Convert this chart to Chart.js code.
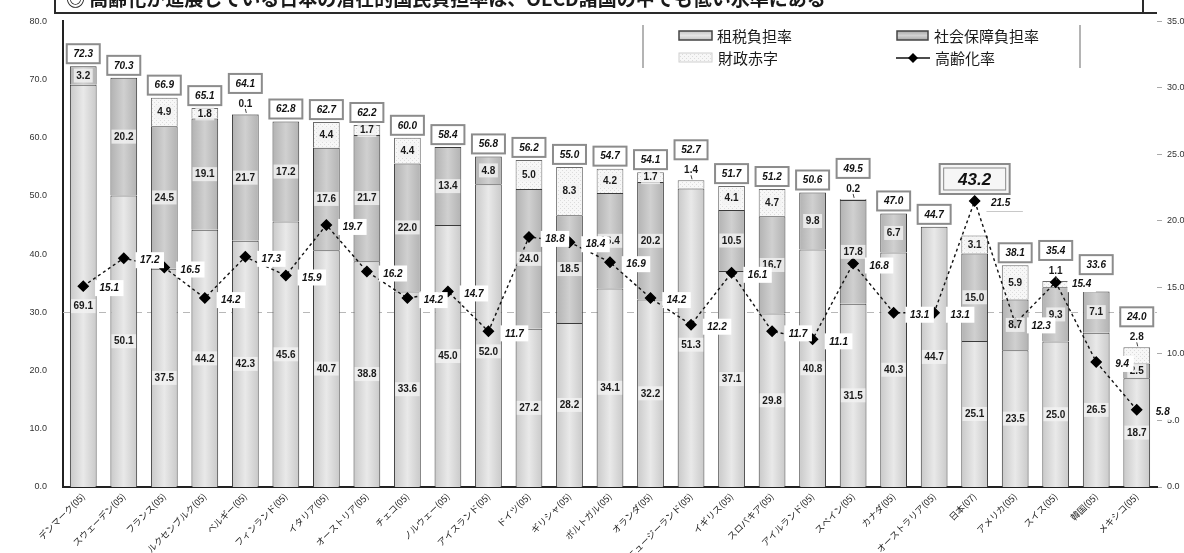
<!DOCTYPE html>
<html>
<head>
<meta charset="utf-8">
<script src="https://cdn.jsdelivr.net/npm/chart.js@4.4.0/dist/chart.umd.min.js"></script>
<style>
  html, body { margin: 0; padding: 0; background: #ffffff; }
  canvas { display: block; }
</style>
</head>
<body>
<canvas id="chart" width="1184" height="553"></canvas>
<script>
// 国名（データ年）
const countries = [
  'デンマーク(05)', 'スウェーデン(05)', 'フランス(05)', 'ルクセンブルク(05)', 'ベルギー(05)',
  'フィンランド(05)', 'イタリア(05)', 'オーストリア(05)', 'チェコ(05)', 'ノルウェー(05)',
  'アイスランド(05)', 'ドイツ(05)', 'ギリシャ(05)', 'ポルトガル(05)', 'オランダ(05)',
  'ニュージーランド(05)', 'イギリス(05)', 'スロバキア(05)', 'アイルランド(05)', 'スペイン(05)',
  'カナダ(05)', 'オーストラリア(05)', '日本(07)', 'アメリカ(05)', 'スイス(05)',
  '韓国(05)', 'メキシコ(05)'
];
// 租税負担率（対国民所得比, %）
const taxBurden = [
  69.1, 50.1, 37.5, 44.2, 42.3, 45.6, 40.7, 38.8, 33.6, 45.0,
  52.0, 27.2, 28.2, 34.1, 32.2, 51.3, 37.1, 29.8, 40.8, 31.5,
  40.3, 44.7, 25.1, 23.5, 25.0, 26.5, 18.7
];
// 社会保障負担率（%）
const socialSecurityBurden = [
  3.2, 20.2, 24.5, 19.1, 21.7, 17.2, 17.6, 21.7, 22.0, 13.4,
  4.8, 24.0, 18.5, 16.4, 20.2, 0, 10.5, 16.7, 9.8, 17.8,
  6.7, 0, 15.0, 8.7, 9.3, 7.1, 2.5
];
// 財政赤字（%）
const fiscalDeficit = [
  0, 0, 4.9, 1.8, 0.1, 0, 4.4, 1.7, 4.4, 0,
  0, 5.0, 8.3, 4.2, 1.7, 1.4, 4.1, 4.7, 0, 0.2,
  0, 0, 3.1, 5.9, 1.1, 0, 2.8
];
// 高齢化率（%）
const agingRate = [
  15.1, 17.2, 16.5, 14.2, 17.3, 15.9, 19.7, 16.2, 14.2, 14.7,
  11.7, 18.8, 18.4, 16.9, 14.2, 12.2, 16.1, 11.7, 11.1, 16.8,
  13.1, 13.1, 21.5, 12.3, 15.4, 9.4, 5.8
];
// 軸目盛
const leftTickValues = [0, 10, 20, 30, 40, 50, 60, 70, 80];
const rightTickValues = [0, 5, 10, 15, 20, 25, 30, 35];
const highlightCountry = '日本(07)';
const titleText = '◎ 高齢化が進展している日本の潜在的国民負担率は、OECD諸国の中でも低い水準にある';

// 潜在的国民負担率 = 租税 + 社会保障 + 財政赤字
const potentialBurden = countries.map((_, i) =>
  Math.round((taxBurden[i] + socialSecurityBurden[i] + fiscalDeficit[i]) * 10) / 10);

const BAR_PCT = 0.66;
const NUM_FONT = '"Liberation Sans", "DejaVu Sans", sans-serif';
const JP_FONT = '"Noto Sans CJK JP", "Noto Sans", sans-serif';

function cylinder(ctx, edge, mid) {
  const chart = ctx.chart;
  if (!chart.chartArea || ctx.type !== 'data') return mid;
  const xs = chart.scales.x;
  const cx = xs.getPixelForValue(ctx.dataIndex);
  const half = xs.width / countries.length * BAR_PCT / 2;
  const g = chart.ctx.createLinearGradient(cx - half, 0, cx + half, 0);
  g.addColorStop(0, edge);
  g.addColorStop(0.5, mid);
  g.addColorStop(1, edge);
  return g;
}

function dottedPattern() {
  const c = document.createElement('canvas');
  c.width = 4; c.height = 4;
  const p = c.getContext('2d');
  p.fillStyle = '#f7f7f7';
  p.fillRect(0, 0, 4, 4);
  p.fillStyle = '#dcdcdc';
  p.fillRect(0, 0, 1, 1);
  p.fillRect(2, 2, 1, 1);
  return p.createPattern(c, 'repeat');
}
const deficitFill = dottedPattern();

// 30% の破線
const refLinePlugin = {
  id: 'refLine',
  beforeDatasetsDraw(chart) {
    const { ctx, chartArea, scales: { y } } = chart;
    const yy = Math.round(y.getPixelForValue(30)) + 0.5;
    ctx.save();
    ctx.strokeStyle = '#b8b8b8';
    ctx.lineWidth = 1;
    ctx.setLineDash([7, 5]);
    ctx.beginPath();
    ctx.moveTo(chartArea.left, yy);
    ctx.lineTo(chartArea.right, yy);
    ctx.stroke();
    ctx.restore();
  }
};

// 数値ラベル
const valueLabelPlugin = {
  id: 'valueLabels',
  afterDatasetsDraw(chart) {
    const { ctx, scales: { x, y, y1 } } = chart;
    ctx.save();
    ctx.textAlign = 'center';
    ctx.textBaseline = 'middle';

    const agingLabelY = agingRate.map(v => y1.getPixelForValue(v) + 2);

    countries.forEach((name, i) => {
      const cx = x.getPixelForValue(i);
      const markerY = y1.getPixelForValue(agingRate[i]);
      const segs = [
        [taxBurden[i], 0],
        [socialSecurityBurden[i], taxBurden[i]],
        [fiscalDeficit[i], taxBurden[i] + socialSecurityBurden[i]]
      ];
      const topY = y.getPixelForValue(potentialBurden[i]);
      let anchor = topY;
      let small = null;

      ctx.font = 'bold 10px ' + NUM_FONT;
      segs.forEach(([v, base], k) => {
        if (!v) return;
        const below = k > 0 ? segs[k - 1][0] : Infinity;
        const belowPx = Math.abs(y.getPixelForValue(0) - y.getPixelForValue(below || 0));
        if (k === 2 && (v <= 1.4 || belowPx < 18)) { small = v; return; }
        let cy = y.getPixelForValue(base + v / 2);
        if (k === 0 && Math.abs(cy - markerY) < 16) cy = markerY + 20;
        const t = v.toFixed(1);
        const w = ctx.measureText(t).width + 5;
        ctx.fillStyle = 'rgba(242,242,242,0.8)';
        ctx.fillRect(cx - w / 2, cy - 7, w, 14);
        ctx.fillStyle = '#1a1a1a';
        ctx.fillText(t, cx, cy + 0.5);
      });

      if (small !== null) {
        const sy = topY - 10;
        ctx.strokeStyle = '#444';
        ctx.lineWidth = 1;
        ctx.beginPath();
        ctx.moveTo(cx, sy + 5);
        ctx.lineTo(cx + 1, topY - 1);
        ctx.stroke();
        ctx.fillStyle = '#1a1a1a';
        ctx.fillText(small.toFixed(1), cx, sy);
        anchor = topY - 18;
      }

      if (markerY < anchor - 4) anchor = markerY - 8;

      const isHi = name === highlightCountry;
      const txt = potentialBurden[i].toFixed(1);
      if (isHi) {
        ctx.font = 'italic bold 17px ' + NUM_FONT;
        const bw = 70, bh = 30, by = anchor - 14 - bh / 2;
        ctx.fillStyle = '#f6f6f6';
        ctx.fillRect(cx - bw / 2, by, bw, bh);
        ctx.strokeStyle = '#8a8a8a';
        ctx.lineWidth = 2;
        ctx.strokeRect(cx - bw / 2, by, bw, bh);
        ctx.lineWidth = 1;
        ctx.strokeRect(cx - bw / 2 + 4, by + 4, bw - 8, bh - 8);
        ctx.fillStyle = '#111';
        ctx.fillText(txt, cx, by + bh / 2 + 1);
      } else {
        ctx.font = 'italic bold 10px ' + NUM_FONT;
        const bw = Math.max(ctx.measureText(txt).width + 12, 33), bh = 19;
        let by = anchor - 3 - bh;
        // 左隣の高齢化率ラベルと重ならないよう持ち上げる
        if (i > 0) {
          const ly = agingLabelY[i - 1];
          if (by < ly + 8 && by + bh > ly - 8) by = ly - 10 - bh;
        }
        ctx.fillStyle = '#ffffff';
        ctx.fillRect(cx - bw / 2, by, bw, bh);
        ctx.strokeStyle = '#8c8c8c';
        ctx.lineWidth = 2;
        ctx.strokeRect(cx - bw / 2, by, bw, bh);
        ctx.fillStyle = '#111';
        ctx.fillText(txt, cx, by + bh / 2 + 0.5);
      }
    });

    // 高齢化率ラベル
    ctx.font = 'italic bold 10px ' + NUM_FONT;
    agingRate.forEach((v, i) => {
      const mx = x.getPixelForValue(i) + 26;
      const my = agingLabelY[i];
      const t = v.toFixed(1);
      const w = ctx.measureText(t).width + 9;
      ctx.fillStyle = '#ffffff';
      ctx.fillRect(mx - w / 2, my - 8, w, 16);
      if (countries[i] === highlightCountry) {
        ctx.strokeStyle = '#c8c8c8';
        ctx.lineWidth = 1;
        ctx.beginPath();
        ctx.moveTo(mx - w / 2, my + 8.5);
        ctx.lineTo(mx + w / 2 + 8, my + 8.5);
        ctx.stroke();
      }
      ctx.fillStyle = '#111';
      ctx.fillText(t, mx, my + 0.5);
    });
    ctx.restore();
  }
};

// 見出しと凡例
const framePlugin = {
  id: 'frame',
  afterDraw(chart) {
    const { ctx, chartArea } = chart;
    ctx.save();

    // 見出し枠
    ctx.fillStyle = '#ffffff';
    ctx.fillRect(55, -30, 1088, 43);
    ctx.strokeStyle = '#2a2a2a';
    ctx.lineWidth = 2;
    ctx.strokeRect(55, -30, 1088, 43);
    ctx.beginPath();
    ctx.moveTo(55, 13);
    ctx.lineTo(chartArea.right, 13);
    ctx.stroke();
    ctx.fillStyle = '#1a1a1a';
    ctx.font = 'bold 19px ' + JP_FONT;
    ctx.textAlign = 'left';
    ctx.textBaseline = 'alphabetic';
    ctx.fillText(titleText, 66, 6);

    // 凡例
    ctx.strokeStyle = '#b4b4b4';
    ctx.lineWidth = 2;
    ctx.beginPath();
    ctx.moveTo(643, 25); ctx.lineTo(643, 68);
    ctx.moveTo(1080, 25); ctx.lineTo(1080, 68);
    ctx.stroke();

    const swatch = (x0, y0, w, h, edge, mid, border) => {
      const g = ctx.createLinearGradient(0, y0, 0, y0 + h);
      g.addColorStop(0, edge); g.addColorStop(0.5, mid); g.addColorStop(1, edge);
      ctx.fillStyle = g;
      ctx.fillRect(x0, y0, w, h);
      ctx.strokeStyle = border;
      ctx.lineWidth = 1.5;
      ctx.strokeRect(x0, y0, w, h);
    };
    swatch(679, 31, 33, 9, '#c4c4c4', '#e6e6e6', '#444');
    swatch(897, 31, 31, 9, '#a8a8a8', '#d2d2d2', '#444');
    ctx.fillStyle = deficitFill;
    ctx.fillRect(679, 53, 33, 9);
    ctx.strokeStyle = '#d0d0d0';
    ctx.lineWidth = 1;
    ctx.strokeRect(679, 53, 33, 9);
    ctx.strokeStyle = '#111';
    ctx.lineWidth = 1.5;
    ctx.beginPath();
    ctx.moveTo(896, 58); ctx.lineTo(930, 58);
    ctx.stroke();
    ctx.fillStyle = '#000';
    ctx.beginPath();
    ctx.moveTo(913, 53); ctx.lineTo(918, 58); ctx.lineTo(913, 63); ctx.lineTo(908, 58);
    ctx.closePath();
    ctx.fill();

    ctx.fillStyle = '#1a1a1a';
    ctx.font = '15px ' + JP_FONT;
    ctx.textBaseline = 'middle';
    const ds = chart.data.datasets;
    ctx.fillText(ds[0].label, 717, 36);
    ctx.fillText(ds[1].label, 934, 36);
    ctx.fillText(ds[2].label, 718, 58);
    ctx.fillText(ds[3].label, 935, 58);
    ctx.restore();
  }
};

const barBorder = { top: 1, left: 1, right: 1, bottom: 0 };

new Chart(document.getElementById('chart'), {
  type: 'bar',
  data: {
    labels: countries,
    datasets: [
      {
        label: '租税負担率',
        data: taxBurden,
        stack: 'burden',
        yAxisID: 'y',
        order: 1,
        backgroundColor: ctx => cylinder(ctx, '#c9c9c9', '#e9e9e9'),
        borderColor: '#3a3a3a',
        borderWidth: barBorder,
        borderSkipped: false,
        barPercentage: BAR_PCT,
        categoryPercentage: 1
      },
      {
        label: '社会保障負担率',
        data: socialSecurityBurden,
        stack: 'burden',
        yAxisID: 'y',
        order: 1,
        backgroundColor: ctx => cylinder(ctx, '#b2b2b2', '#d0d0d0'),
        borderColor: '#3a3a3a',
        borderWidth: barBorder,
        borderSkipped: false,
        barPercentage: BAR_PCT,
        categoryPercentage: 1
      },
      {
        label: '財政赤字',
        data: fiscalDeficit,
        stack: 'burden',
        yAxisID: 'y',
        order: 1,
        backgroundColor: deficitFill,
        borderColor: '#6a6a6a',
        borderWidth: barBorder,
        borderSkipped: false,
        barPercentage: BAR_PCT,
        categoryPercentage: 1
      },
      {
        type: 'line',
        label: '高齢化率',
        data: agingRate,
        yAxisID: 'y1',
        order: 0,
        borderColor: '#111111',
        borderWidth: 1.4,
        borderDash: [3, 3],
        pointStyle: 'rectRot',
        pointRadius: 5,
        pointBackgroundColor: '#000000',
        pointBorderColor: '#000000',
        tension: 0
      }
    ]
  },
  options: {
    responsive: false,
    animation: false,
    devicePixelRatio: 1,
    layout: { padding: { top: 13, left: 0, right: 0, bottom: 0 } },
    plugins: {
      legend: { display: false },
      tooltip: { enabled: false },
      title: { display: false }
    },
    scales: {
      x: {
        stacked: true,
        offset: true,
        grid: { display: false, drawTicks: false },
        border: { display: true, color: '#222', width: 2 },
        ticks: {
          autoSkip: false,
          minRotation: 45,
          maxRotation: 45,
          padding: 4,
          color: '#222',
          font: { family: JP_FONT, size: 9 }
        },
        afterFit(s) { s.height = 66; }
      },
      y: {
        stacked: true,
        position: 'left',
        min: 0,
        max: 80,
        afterBuildTicks(s) { s.ticks = leftTickValues.map(v => ({ value: v })); },
        grid: { display: false, drawTicks: false },
        border: { display: true, color: '#222', width: 2 },
        ticks: {
          padding: 16,
          color: '#333',
          font: { family: NUM_FONT, size: 9 },
          callback: v => Number(v).toFixed(1)
        },
        afterFit(s) { s.width = 63; }
      },
      y1: {
        position: 'right',
        min: 0,
        max: 35,
        afterBuildTicks(s) { s.ticks = rightTickValues.map(v => ({ value: v })); },
        grid: { drawOnChartArea: false, drawTicks: true, tickLength: 5, tickColor: '#aaa' },
        border: { display: false },
        ticks: {
          padding: 5,
          color: '#333',
          font: { family: NUM_FONT, size: 9 },
          callback: v => Number(v).toFixed(1)
        },
        afterFit(s) { s.width = 27; }
      }
    }
  },
  plugins: [refLinePlugin, valueLabelPlugin, framePlugin]
});
</script>
</body>
</html>
